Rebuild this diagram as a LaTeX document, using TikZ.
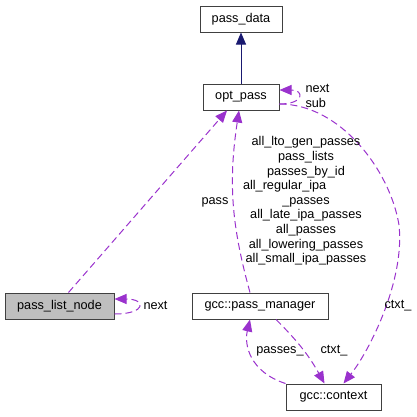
\documentclass[tikz,border=0pt]{standalone}
\usepackage{fontspec}
\setmainfont{Liberation Sans}
\usepackage{xcolor}
\usepackage{tikz}
\usetikzlibrary{arrows.meta,calc}

\definecolor{membercol}{HTML}{9A32CD}
\definecolor{inhcol}{HTML}{191970}
\definecolor{boxline}{HTML}{404040}
\definecolor{boxgray}{HTML}{BFBFBF}

\begin{document}
\begin{tikzpicture}[x=1pt, y=-1pt, ->, >={Triangle[length=12pt,width=10pt]},
                line width=1pt, font=\fontsize{12.7}{14.6}\selectfont,
                cls/.style={draw=boxline, fill=white, inner sep=0pt, minimum height=26pt},
                mem/.style={draw=membercol, dash pattern=on 7pt off 4pt},
                inh/.style={draw=inhcol},
                lbl/.style={inner sep=0pt, align=center}]
		\useasboundingbox (0,0) rectangle (417,416);
		\begin{scope}
			\node [cls, minimum width=82pt] (pdata) at (241,19) {pass\_data};
			\node [cls, minimum width=76pt] (opass) at (241,97) {opt\_pass};
			\node [cls, minimum width=109pt, fill=boxgray] (plnode) at (59.5,306) {pass\_list\_node};
			\node [cls, minimum width=136pt] (pmgr) at (260,306) {gcc::pass\_manager};
			\node [cls, minimum width=95pt] (ctx) at (333.5,397) {gcc::context};

			\path (opass) edge [inh] (pdata)
			      ([xshift=9pt]plnode.north) edge [mem] ([xshift=-14pt]opass.south)
			      ([xshift=-10pt]pmgr.north) edge [mem, bend left=12] ([xshift=-2pt]opass.south)
			      ([xshift=16pt]pmgr.south) edge [mem, bend left=8] ([xshift=-9pt]ctx.north);

			% self loops
			\draw [mem] ([yshift=-7pt]opass.east) .. controls +(25,0) and +(25,0) .. ([yshift=7pt]opass.east);
			\draw [mem] ([yshift=-8pt]plnode.east) .. controls +(32,0) and +(32,0) .. ([yshift=7pt]plnode.east);

			\draw [mem] ([yshift=-7pt]opass.east) .. controls (340,104) and (390,170) .. (399,225)
			      .. controls (405,280) and (370,350) .. ([xshift=10pt]ctx.north);
			\draw [mem] ([xshift=-48pt]ctx.north) .. controls (250,372) and (244,345) .. ([xshift=-10pt]pmgr.south);

			\node [lbl, anchor=west, align=left] (lnextsub) at (305,96) {next\\sub};
			\node [lbl, anchor=west] (lnext) at (143,305) {next};
			\node [lbl] (lpass) at (215,202) {pass};
			\node [lbl] (lpasses) at (306,201) {all\_lto\_gen\_passes\\pass\_lists\\passes\_by\_id\\
			      \makebox[126pt][l]{all\_regular\_ipa}\\\_passes\\all\_late\_ipa\_passes\\all\_passes\\
			      all\_lowering\_passes\\all\_small\_ipa\_passes};
			\node [lbl] (lctxa) at (398,306) {ctxt\_};
			\node [lbl] (lctxb) at (334,351) {ctxt\_};
			\node [lbl] (lpassesu) at (280,351) {passes\_};
		\end{scope}
\end{tikzpicture}
\end{document}
